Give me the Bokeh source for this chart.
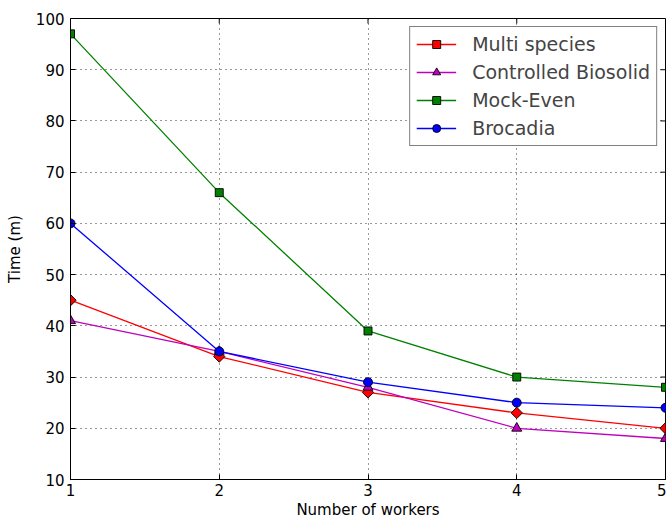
from bokeh.plotting import figure
from bokeh.models import Range1d, FixedTicker, Legend, LegendItem
from bokeh.embed import file_html
from bokeh.resources import INLINE
import math

# Runtime (minutes) by number of workers for each dataset
workers = [1, 2, 3, 4, 5]
multi_species = [45, 34, 27, 23, 20]
controlled_biosolid = [41, 35, 28, 20, 18]
mock_even = [97, 66, 39, 30, 28]
brocadia = [60, 35, 29, 25, 24]

x_ticks = [1, 2, 3, 4, 5]
y_ticks = [10, 20, 30, 40, 50, 60, 70, 80, 90, 100]

FONT = "DejaVu Sans"
X0, X1, Y0, Y1 = 1, 5, 10, 100
FRAME_W, FRAME_H = 595, 461
TICK_PX = 5

p = figure(width=666, height=522, output_backend="svg", toolbar_location=None,
           x_range=Range1d(X0, X1), y_range=Range1d(Y0, Y1),
           min_border_left=70, min_border_right=1, min_border_top=18, min_border_bottom=43)

p.background_fill_color = "white"
p.border_fill_color = "white"
p.outline_line_color = "black"
p.outline_line_width = 1

for ax in p.xaxis + p.yaxis:
    ax.major_label_text_font = FONT
    ax.major_label_text_font_size = "15px"
    ax.major_label_text_color = "black"
    ax.axis_label_text_font = FONT
    ax.axis_label_text_font_size = "15px"
    ax.axis_label_text_font_style = "normal"
    ax.axis_label_text_color = "black"
    ax.major_tick_in = TICK_PX
    ax.major_tick_out = 0
    ax.minor_tick_line_color = None
    ax.axis_line_color = "black"
    ax.major_tick_line_color = "black"

p.xaxis.ticker = FixedTicker(ticks=x_ticks)
p.yaxis.ticker = FixedTicker(ticks=y_ticks)
p.xaxis.axis_label = "Number of workers"
p.yaxis.axis_label = "Time (m)"
p.xaxis.major_label_standoff = 4
p.yaxis.major_label_standoff = 6
p.xaxis.axis_label_standoff = 2
p.yaxis.axis_label_standoff = 9

p.grid.grid_line_color = "black"
p.grid.grid_line_dash = "1 4"
p.grid.grid_line_width = 1
p.grid.grid_line_alpha = 0.8

# inward tick marks mirrored on the top and right edges of the frame
dy = TICK_PX * (Y1 - Y0) / FRAME_H
dx = TICK_PX * (X1 - X0) / FRAME_W
p.segment(x0=x_ticks, y0=[Y1] * len(x_ticks), x1=x_ticks, y1=[Y1 - dy] * len(x_ticks),
          line_color="black", line_width=1)
p.segment(x0=[X1] * len(y_ticks), y0=y_ticks, x1=[X1 - dx] * len(y_ticks), y1=y_ticks,
          line_color="black", line_width=1)

series = [
    ("Multi species", multi_species, "#ff0000", "square", 8, math.pi / 4),
    ("Controlled Biosolid", controlled_biosolid, "#bf00bf", "triangle", 10, 0),
    ("Mock-Even", mock_even, "#008000", "square", 8, 0),
    ("Brocadia", brocadia, "#0000ff", "circle", 9, 0),
]

items = []
for name, vals, color, marker, size, angle in series:
    ln = p.line(workers, vals, line_color=color, line_width=1.3)
    sc = p.scatter(workers, vals, marker=marker, size=size, angle=angle,
                   fill_color=color, line_color="black", line_width=0.9)
    items.append(LegendItem(label=name, renderers=[ln, sc]))

legend = Legend(items=items, location="top_right", margin=8,
                label_text_font=FONT, label_text_font_size="19px",
                glyph_width=40, glyph_height=20, label_standoff=16,
                spacing=6, padding=6, border_line_color="black",
                border_line_width=1, background_fill_alpha=1)
p.add_layout(legend, "center")

open("out.html", "w").write(file_html(p, INLINE))
